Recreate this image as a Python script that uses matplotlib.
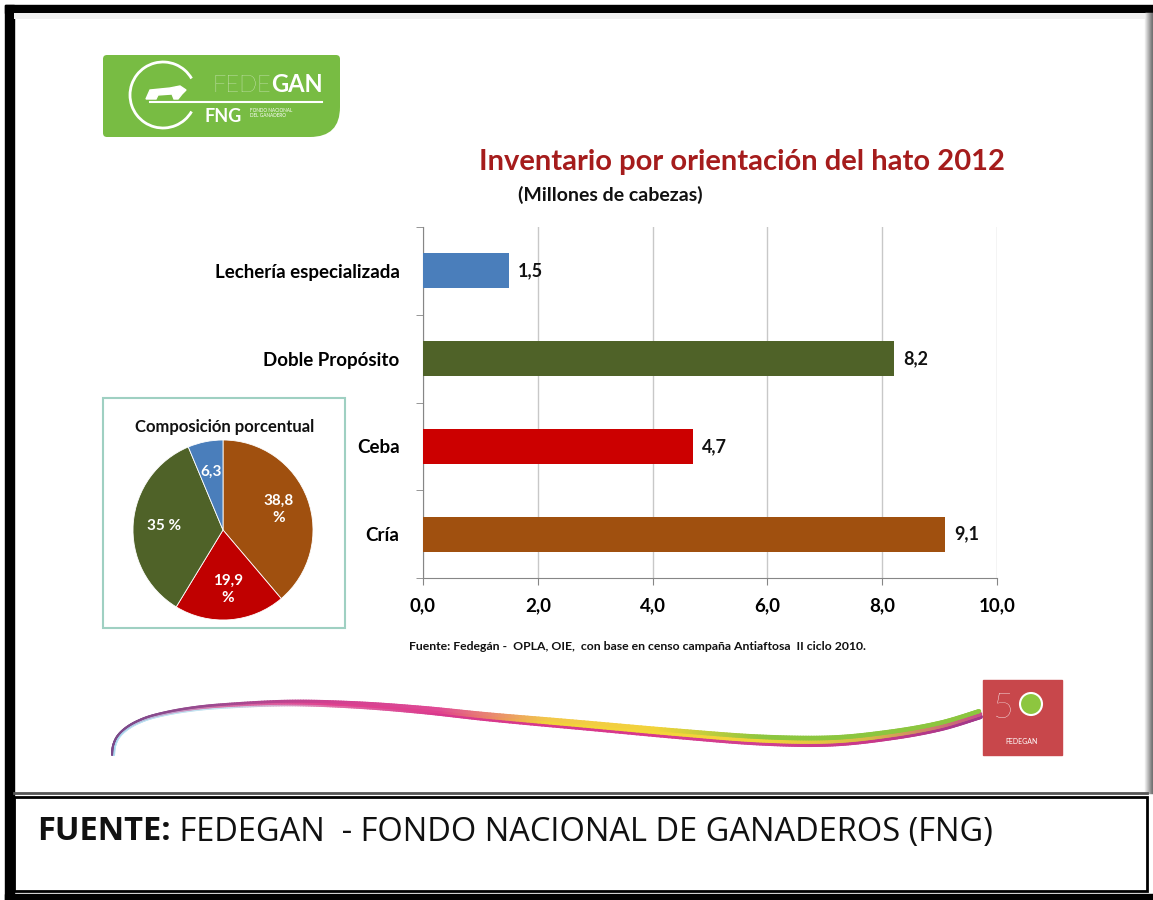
import numpy as np
import matplotlib
matplotlib.use('Agg')
import matplotlib.pyplot as plt
from matplotlib.patches import Rectangle, FancyBboxPatch, Circle, Arc, Polygon
from matplotlib.collections import LineCollection
from matplotlib.colors import to_rgb

plt.rcParams['font.family'] = ['Lato', 'DejaVu Sans']

# datos
categorias = ['Lechería especializada', 'Doble Propósito', 'Ceba', 'Cría']
cabezas = [1.5, 8.2, 4.7, 9.1]
colores = ['#4a7ebb', '#4f6228', '#cc0000', '#a0500f']
xticks = [0, 2, 4, 6, 8, 10]

pie_valores = [38.8, 19.9, 35.0, 6.3]
pie_etiquetas = ['38,8\n%', '19,9\n%', '35 %', '6,3']
pie_colores = ['#a0500f', '#c00000', '#4f6228', '#4a7ebb']

W, H = 1153, 900
fig = plt.figure(figsize=(W / 100, H / 100), dpi=100)
fig.patch.set_facecolor('white')

# fondo en pixeles
bg = fig.add_axes([0, 0, 1, 1])
bg.set_xlim(0, W)
bg.set_ylim(H, 0)
bg.axis('off')

# marco
bg.add_patch(Rectangle((5, 5), W - 5, 8, color='black'))
bg.add_patch(Rectangle((5, 5), 9, H - 5, color='black'))
bg.add_patch(Rectangle((5, 894), W - 5, 6, color='black'))
for i, g in enumerate(np.linspace(0.93, 0.45, 8)):
    bg.add_patch(Rectangle((1145 + i, 13), 1, 780, color=(g, g, g)))
bg.add_patch(Rectangle((14, 13), 1131, 6, color='#f0f0f0', lw=0))
bg.plot([14, 1147], [793, 793], color='#555555', lw=2)
bg.add_patch(Rectangle((14, 797), 1133, 94, fill=False, ec='black', lw=2))

# logo FEDEGAN
bg.add_patch(FancyBboxPatch((103, 55), 237, 82, boxstyle='round,pad=0,rounding_size=4',
                            fc='#78bc43', ec='none'))
bg.add_patch(Rectangle((300, 100), 40, 37, color='white'))
bg.add_patch(FancyBboxPatch((250, 60), 90, 77, boxstyle='round,pad=0,rounding_size=30',
                            fc='#78bc43', ec='none'))
bg.add_patch(Arc((163, 95), 66, 66, theta1=30, theta2=330, color='white', lw=2))
bg.plot([150, 322], [102, 102], color='white', lw=1.5)
bg.add_patch(Polygon([[146, 99], [150, 90], [170, 88], [180, 86], [186, 90], [182, 94],
                      [178, 99], [174, 99], [172, 94], [158, 95], [156, 99]], color='white'))
t1 = bg.text(212, 85, 'FEDE', color='white', fontsize=17, va='center', ha='left',
             fontweight='light')
bg.annotate('GAN', xy=(1, 0.5), xycoords=t1, va='center', ha='left', color='white',
            fontsize=17, fontweight='bold')
bg.text(205, 116, 'FNG', color='white', fontsize=13, fontweight='bold', va='center')
bg.text(250, 113, 'FONDO NACIONAL\nDEL GANADERO', color='white', fontsize=3.4,
        va='center', linespacing=1.2)

# titulos
bg.text(742, 162, 'Inventario por orientación del hato 2012', color='#a51c1c',
        fontsize=21, fontweight='bold', ha='center', va='center')
bg.text(610, 195, '(Millones de cabezas)', color='#111111', fontsize=14,
        fontweight='bold', ha='center', va='center')

# barras
ax = fig.add_axes([423 / W, 1 - 578 / H, 574 / W, 351 / H])
ypos = np.arange(len(categorias))
ax.barh(ypos, cabezas, height=0.4, color=colores, zorder=3)
ax.set_xlim(0, 10)
ax.set_ylim(len(categorias) - 0.5, -0.5)
ax.set_yticks(ypos)
ax.set_yticklabels(categorias, fontsize=13.5, fontweight='bold')
ax.set_yticks(np.arange(-0.5, len(categorias)), minor=True)
ax.tick_params(axis='y', which='major', length=0, pad=17)
ax.tick_params(axis='y', which='minor', length=5, color='#868686')
ax.set_xticks(xticks)
ax.set_xticklabels([f'{v:.1f}'.replace('.', ',') for v in xticks],
                   fontsize=13.5, fontweight='bold')
ax.tick_params(axis='x', length=5, color='#868686', pad=9)
ax.grid(axis='x', color='#c8c8c8', lw=1, zorder=0)
for s in ['top', 'right']:
    ax.spines[s].set_visible(False)
for s in ['left', 'bottom']:
    ax.spines[s].set_color('#868686')
for y, v in zip(ypos, cabezas):
    ax.text(v + 0.16, y, f'{v:.1f}'.replace('.', ','), va='center', ha='left',
            fontsize=13, fontweight='bold', color='#111111')

bg.text(637, 647, 'Fuente: Fedegán -  OPLA, OIE,  con base en censo campaña Antiaftosa  II ciclo 2010.',
        fontsize=8.8, fontweight='bold', ha='center', va='center', color='#111111')

# pastel
bg.add_patch(Rectangle((103, 398), 242, 230, fill=False, ec='#9fd0c2', lw=1.5))
bg.text(225, 427, 'Composición porcentual', fontsize=12, fontweight='bold',
        ha='center', va='center', color='#111111')
axp = fig.add_axes([133 / W, 1 - 620 / H, 180 / W, 180 / H])
wedges, txts = axp.pie(pie_valores, colors=pie_colores, startangle=90, counterclock=False,
                       labels=pie_etiquetas, labeldistance=0.66,
                       wedgeprops=dict(edgecolor='white', linewidth=0.6),
                       textprops=dict(color='white', fontsize=11, fontweight='bold',
                                      ha='center', va='center', linespacing=1.3))
axp.set_xlim(-1, 1)
axp.set_ylim(-1, 1)
axp.set_aspect('equal')

# franja decorativa (Catmull-Rom por puntos de control)
ctrl = np.array([(113, 755), (114, 746), (118, 737), (126, 729), (138, 722), (155, 716),
                 (185, 710), (223, 706), (290, 703), (357, 705), (423, 710), (490, 717),
                 (580, 725), (680, 734), (760, 740), (830, 741), (890, 735), (940, 726),
                 (980, 714)], dtype=float)
p = np.vstack([ctrl[0], ctrl, ctrl[-1]])
curva = []
for i in range(1, len(p) - 2):
    for s in np.linspace(0, 1, 25, endpoint=False):
        p0, p1, p2, p3 = p[i - 1], p[i], p[i + 1], p[i + 2]
        curva.append(0.5 * (2 * p1 + (-p0 + p2) * s + (2 * p0 - 5 * p1 + 4 * p2 - p3) * s ** 2
                            + (-p0 + 3 * p1 - 3 * p2 + p3) * s ** 3))
curva.append(ctrl[-1])
curva = np.array(curva)
t = (curva[:, 0] - curva[0, 0]) / (curva[-1, 0] - curva[0, 0])
grosor = np.interp(t, [0, 0.2, 0.5, 0.8, 1], [0.3, 0.55, 0.85, 1.0, 0.9])
# normal hacia abajo en pantalla
d = np.gradient(curva, axis=0)
nrm = np.column_stack([-d[:, 1], d[:, 0]]) / np.hypot(d[:, 0], d[:, 1])[:, None]


def banda(off, stops, lw):
    pts = (curva + nrm * (off * grosor)[:, None]).reshape(-1, 1, 2)
    segs = np.concatenate([pts[:-1], pts[1:]], axis=1)
    pos = np.linspace(0, 1, len(stops))
    rgb = np.array([to_rgb(c) for c in stops])
    cols = np.column_stack([np.interp(t[:-1], pos, rgb[:, k]) for k in range(3)])
    bg.add_collection(LineCollection(segs, colors=cols, linewidths=lw * grosor[:-1] + 0.6,
                                     capstyle='round'))


# abajo
banda(3.3, ['#b8e2f4', '#c8e4f0', '#e070a8', '#d8388c', '#d8388c', '#d8388c',
            '#d04090', '#c8388a', '#a0388a'], 2.8)
# centro
banda(0, ['#a8d8ee', '#d870a8', '#e0408f', '#e0408f', '#f2d33a', '#f4d53a',
          '#f2d33a', '#d8b848', '#c8508a'], 3.0)
# arriba
banda(-3.3, ['#7a4a8a', '#a04a90', '#d04090', '#e04a95', '#f2c84a', '#f2d33a',
             '#8cc63f', '#8cc63f', '#8cc63f'], 2.8)

# logo 50
bg.add_patch(Rectangle((983, 680), 79, 75, color='#c8474b'))
bg.text(1003, 708, '5', color='white', fontsize=26, ha='center', va='center',
        fontweight='light')
bg.add_patch(Circle((1031, 704), 11, fc='#8dc63f', ec='white', lw=1.5))
bg.text(1022, 742, 'FEDEGAN', color='white', fontsize=5, ha='center', va='center')

# fuente inferior
f1 = bg.text(37, 832, 'FUENTE:', fontsize=23.5, fontweight='bold', ha='left', va='center',
             color='#111111', family=['Open Sans', 'DejaVu Sans'])
bg.annotate(' FEDEGAN  - FONDO NACIONAL DE GANADEROS (FNG)', xy=(1, 0.5), xycoords=f1,
            ha='left', va='center', fontsize=23.5, color='#111111',
            family=['Open Sans', 'DejaVu Sans'])

fig.savefig('out.png', dpi=100)
